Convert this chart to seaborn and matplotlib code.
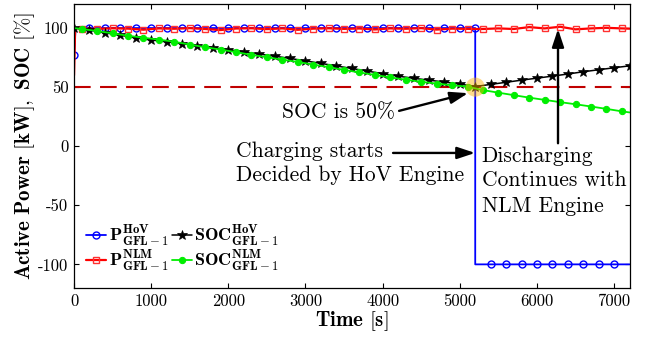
import numpy as np
import pandas as pd
import matplotlib
matplotlib.use("Agg")
import matplotlib.pyplot as plt
import seaborn as sns

# ---------------- data ----------------
t_p_hov = [0, 20, 200, 400, 600, 800, 1000, 1200, 1400, 1600, 1800, 2000, 2200,
           2400, 2600, 2800, 3000, 3200, 3400, 3600, 3800, 4000, 4200, 4400, 4600,
           4800, 5000, 5200, 5200, 5400, 5600, 5800, 6000, 6200, 6400, 6600, 6800,
           7000, 7200]
p_hov = [77, 100, 100, 100, 100, 100, 100, 100, 100, 100, 100, 100, 100,
         100, 100, 100, 100, 100, 100, 100, 100, 100, 100, 100, 100,
         100, 100, 100, -100, -100, -100, -100, -100, -100, -100, -100, -100,
         -100, -100]

t_p_nlm = [0, 15, 100, 300, 500, 700, 900, 1100, 1300, 1500, 1700, 1900, 2100,
           2300, 2500, 2700, 2900, 3100, 3300, 3500, 3700, 3900, 4100, 4300, 4500,
           4700, 4900, 5100, 5300, 5500, 5700, 5900, 6100, 6300, 6500, 6700, 6900,
           7100, 7200]
p_nlm = [60, 100, 99.6, 99.3, 99.8, 99.5, 98.6, 99.7, 99.4, 99.9, 99.2, 98.3, 99.6,
         99.8, 99.1, 99.7, 98.5, 99.5, 99.8, 99.3, 99.6, 98.8, 99.7, 99.4, 99.9,
         98.7, 99.5, 99.3, 99.2, 99.7, 99.2, 100.8, 99.7, 101.1, 98.9, 99.7, 100.2,
         99.7, 99.5]

t_soc_hov = [0, 200, 400, 600, 800, 1000, 1200, 1400, 1600, 1800, 2000, 2200, 2400,
             2600, 2800, 3000, 3200, 3400, 3600, 3800, 4000, 4200, 4400, 4600, 4800,
             5000, 5200, 5400, 5600, 5800, 6000, 6200, 6400, 6600, 6800, 7000, 7200]
soc_hov = [100.0, 98.3, 96.0, 93.9, 91.7, 89.9, 88.4, 86.8, 85.0, 83.4, 81.7, 79.9, 78.0,
           76.2, 74.3, 72.2, 70.1, 67.9, 65.8, 63.6, 61.4, 59.3, 57.5, 55.9, 54.3,
           52.6, 50.5, 52.3, 54.1, 55.9, 57.6, 59.3, 61.1, 63.0, 64.7, 66.4, 68.0]

t_soc_nlm = [0, 100, 300, 500, 700, 900, 1100, 1300, 1500, 1700, 1900, 2100, 2300,
             2500, 2700, 2900, 3100, 3300, 3500, 3700, 3900, 4100, 4300, 4500, 4700,
             4900, 5100, 5300, 5500, 5700, 5900, 6100, 6300, 6500, 6700, 6900, 7100,
             7200]
soc_nlm = [100.0, 99.2, 97.5, 95.5, 93.5, 91.8, 90.2, 88.4, 86.0, 83.8, 81.8, 79.6, 77.3,
           75.3, 73.3, 71.3, 69.1, 66.9, 64.6, 62.4, 60.3, 58.2, 56.3, 54.5, 53.0,
           51.6, 50.4, 47.5, 45.3, 43.2, 41.1, 39.2, 37.3, 35.5, 33.6, 31.6, 29.5,
           28.6]

soc_threshold = 50
highlight_t = [5200]
highlight_soc = [50]

x_ticks = [0, 1000, 2000, 3000, 4000, 5000, 6000, 7000]
y_ticks = [-100, -50, 0, 50, 100]
y_tick_labels = ["-100", "-50", "0", "50", "100"]

labels = [r"$\mathbf{P}^{\mathbf{HoV}}_{\mathbf{GFL-1}}$",
          r"$\mathbf{P}^{\mathbf{NLM}}_{\mathbf{GFL-1}}$",
          r"$\mathbf{SOC}^{\mathbf{HoV}}_{\mathbf{GFL-1}}$",
          r"$\mathbf{SOC}^{\mathbf{NLM}}_{\mathbf{GFL-1}}$"]

# ---------------- style ----------------
sns.set_theme(style="ticks")
plt.rcParams.update({
    "font.family": ["cmr10", "DejaVu Serif"],
    "mathtext.fontset": "cm",
    "axes.unicode_minus": False,
    "axes.formatter.use_mathtext": True,
    "text.color": "black",
    "axes.labelcolor": "black",
    "xtick.labelcolor": "black",
    "ytick.labelcolor": "black",
    "xtick.direction": "in",
    "ytick.direction": "in",
    "xtick.top": True,
    "ytick.right": True,
    "xtick.major.size": 3.5,
    "ytick.major.size": 3.5,
    "axes.linewidth": 0.9,
    "axes.edgecolor": "black",
    "xtick.color": "black",
    "ytick.color": "black",
})

fig = plt.figure(figsize=(6.46, 3.37), dpi=100)
ax = fig.add_axes([0.1146, 0.1454, 0.8599, 0.8415])

blue_marks = [0] + list(range(2, 28)) + list(range(29, 38))
sns.lineplot(x=t_p_hov, y=p_hov, ax=ax, estimator=None, sort=False,
             color="#0000FF", lw=1.3, marker="o", markersize=5,
             markerfacecolor="none", markeredgecolor="#0000FF", markeredgewidth=1.0,
             markevery=blue_marks, label=labels[0])
sns.lineplot(x=t_p_nlm, y=p_nlm, ax=ax, estimator=None, sort=False,
             color="#FF0000", lw=1.6, marker="s", markersize=4.3,
             markerfacecolor="none", markeredgecolor="#FF3030", markeredgewidth=1.0,
             markevery=list(range(2, 38)), label=labels[1])
sns.lineplot(x=t_soc_hov, y=soc_hov, ax=ax, estimator=None, sort=False,
             color="black", lw=1.1, marker="*", markersize=7.5,
             markeredgecolor="black", markerfacecolor="black", markeredgewidth=0.5,
             label=labels[2])
sns.lineplot(x=t_soc_nlm, y=soc_nlm, ax=ax, estimator=None, sort=False,
             color="#00EE00", lw=1.3, marker="o", markersize=4.5,
             markeredgecolor="#00EE00", markerfacecolor="#00EE00",
             markevery=list(range(1, 37)), label=labels[3])

ax.axhline(soc_threshold, color="#C00000", lw=1.5, dashes=(8, 4.5), zorder=1.5)
sns.scatterplot(x=highlight_t, y=highlight_soc, ax=ax, s=190, color="#FFB300",
                alpha=0.45, edgecolor="none", zorder=5, legend=False)

ax.set_xlim(0, 7200)
ax.set_ylim(-120, 120)
ax.set_xticks(x_ticks)
ax.set_xticklabels([str(v) for v in x_ticks])
ax.set_yticks(y_ticks)
ax.set_yticklabels(y_tick_labels)
ax.tick_params(labelsize=12, pad=4, width=0.8)

ax.set_xlabel(r"$\mathbf{Time}$ $[\mathbf{s}]$", fontsize=15, labelpad=0)
ax.set_ylabel(r"$\mathbf{Active\ Power}$ $[\mathbf{kW}]$$\mathbf{,\ SOC}$ $[\mathbf{\%}]$",
              fontsize=15, labelpad=1)

for s in ax.spines.values():
    s.set_visible(True)
    s.set_color("black")

leg = ax.legend(ncol=2, loc="lower left", bbox_to_anchor=(0.022, 0.05),
                frameon=False, fontsize=13, handlelength=1.1, handletextpad=0.15,
                columnspacing=0.15, labelspacing=0.0, borderpad=0.0, borderaxespad=0)

# ---------------- annotations ----------------
fs = 15.5
ax.text(3424, 23.7, "SOC is 50%", fontsize=fs, ha="center", va="baseline")
ax.text(2100, -9.3, "Charging starts", fontsize=fs, ha="left", va="baseline")
ax.text(2100, -29.7, "Decided by HoV Engine", fontsize=fs, ha="left", va="baseline")
ax.text(5283, -13.3, "Discharging", fontsize=fs, ha="left", va="baseline")
ax.text(5283, -33.9, "Continues with", fontsize=fs, ha="left", va="baseline")
ax.text(5283, -55.7, "NLM Engine", fontsize=fs, ha="left", va="baseline")

arrow = dict(arrowstyle="-|>,head_length=0.9,head_width=0.3", lw=1.7, color="black",
             shrinkA=0, shrinkB=0, mutation_scale=12)
ax.annotate("", xy=(5107, 44.9), xytext=(4213, 29.9), arrowprops=arrow)
ax.annotate("", xy=(5198, -5.7), xytext=(4135, -5.7), arrowprops=arrow)
ax.annotate("", xy=(6273, 99.2), xytext=(6273, 2.5), arrowprops=arrow)

fig.savefig("out.png", dpi=100)
